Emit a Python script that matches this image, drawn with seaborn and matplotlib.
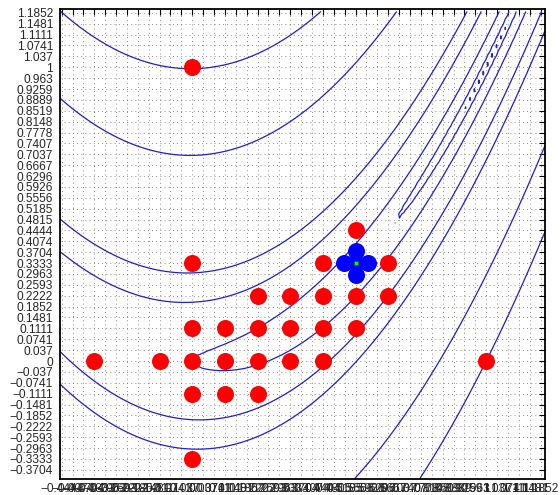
import numpy as np
import pandas as pd
import matplotlib
matplotlib.use("Agg")
import matplotlib.pyplot as plt
import seaborn as sns

# ---- data -------------------------------------------------------------
x_tick_labels = ["-0.4444", "-0.4074", "-0.3704", "-0.3333", "-0.2963", "-0.2593",
                 "-0.2222", "-0.1852", "-0.1481", "-0.1111", "-0.0741", "-0.037",
                 "0", "0.037", "0.0741", "0.1111", "0.1481", "0.1852", "0.2222",
                 "0.2593", "0.2963", "0.3333", "0.3704", "0.4074", "0.4444", "0.4815",
                 "0.5185", "0.5556", "0.5926", "0.6296", "0.6667", "0.7037", "0.7407",
                 "0.7778", "0.8148", "0.8519", "0.8889", "0.9259", "0.963", "1",
                 "1.037", "1.0741", "1.1111", "1.1481", "1.1852"]
y_tick_labels = ["-0.3704", "-0.3333", "-0.2963", "-0.2593", "-0.2222", "-0.1852",
                 "-0.1481", "-0.1111", "-0.0741", "-0.037", "0", "0.037", "0.0741",
                 "0.1111", "0.1481", "0.1852", "0.2222", "0.2593", "0.2963", "0.3333",
                 "0.3704", "0.4074", "0.4444", "0.4815", "0.5185", "0.5556", "0.5926",
                 "0.6296", "0.6667", "0.7037", "0.7407", "0.7778", "0.8148", "0.8519",
                 "0.8889", "0.9259", "0.963", "1", "1.037", "1.0741", "1.1111",
                 "1.1481", "1.1852"]

contour_levels = [0.01, 0.1, 1, 5, 10, 50, 100]

red_x = [0.5556,
         0.0, 0.4444, 0.6667,
         0.2222, 0.3333, 0.4444, 0.5556, 0.6667,
         0.0, 0.1111, 0.2222, 0.3333, 0.4444, 0.5556,
         -0.3333, -0.1111, 0.0, 0.1111, 0.2222, 0.3333, 0.4444, 1.0,
         0.0, 0.1111, 0.2222,
         0.0,
         0.0]
red_y = [0.4444,
         0.3333, 0.3333, 0.3333,
         0.2222, 0.2222, 0.2222, 0.2222, 0.2222,
         0.1111, 0.1111, 0.1111, 0.1111, 0.1111, 0.1111,
         0.0, 0.0, 0.0, 0.0, 0.0, 0.0, 0.0, 0.0,
         -0.1111, -0.1111, -0.1111,
         -0.3333,
         1.0]

blue_x = [0.5148, 0.5964, 0.5556, 0.5556, 0.5556]
blue_y = [0.3333, 0.3333, 0.2925, 0.3741, 0.3333]

green_x = [0.5556]
green_y = [0.3333]

# ---- figure -----------------------------------------------------------
sns.set_style("white")
plt.rcParams["font.family"] = ["Liberation Sans", "DejaVu Sans"]
plt.rcParams["axes.unicode_minus"] = True

fig = plt.figure(figsize=(5.6, 4.95), dpi=100)
ax = fig.add_axes([60 / 560, 16.5 / 495, 485 / 560, 470 / 495])

xt = [float(s) for s in x_tick_labels]
yt = [float(s) for s in y_tick_labels]

# dotted grid
for v in xt:
    ax.axvline(v, color="#666666", lw=0.6, ls=(0, (1, 4)), zorder=0)
for v in yt:
    ax.axhline(v, color="#666666", lw=0.6, ls=(0, (1, 4)), zorder=0)

# Rosenbrock surface contours
gx = np.arange(-0.45, 1.2001, 0.015)
gy = np.arange(-0.4, 1.2001, 0.015)
X, Y = np.meshgrid(gx, gy)
Z = 100 * (Y - X ** 2) ** 2 + (1 - X) ** 2
ax.contour(X, Y, Z, levels=contour_levels, colors=[(0.12, 0.12, 0.8)],
           linewidths=0.9, zorder=1)

red_df = pd.DataFrame({"x": red_x, "y": red_y})
blue_df = pd.DataFrame({"x": blue_x, "y": blue_y})
green_df = pd.DataFrame({"x": green_x, "y": green_y})

sns.scatterplot(data=red_df, x="x", y="y", color="#ff0000", s=150,
                linewidth=0, ax=ax, zorder=3, clip_on=False)
sns.scatterplot(data=blue_df, x="x", y="y", color="#0000ff", s=150,
                linewidth=0, ax=ax, zorder=4)
sns.scatterplot(data=green_df, x="x", y="y", color="#00ff00", marker="s", s=12,
                edgecolor="#006600", linewidth=0.5, ax=ax, zorder=5)

ax.set_xlim(-0.45, 1.2)
ax.set_ylim(-0.4, 1.2)
ax.set_xticks(xt)
ax.set_yticks(yt)
ax.set_xticklabels([s.replace("-", "\u2212") for s in x_tick_labels], fontsize=8.6)
ax.set_yticklabels([s.replace("-", "\u2212") for s in y_tick_labels], fontsize=8.6)
ax.tick_params(direction="in", length=4, width=0.8, top=True, right=True,
               color="black")
ax.tick_params(axis="y", pad=5)
ax.tick_params(axis="x", pad=3)
ax.set_xlabel("")
ax.set_ylabel("")
for sp in ax.spines.values():
    sp.set_visible(True)
    sp.set_color("black")
    sp.set_linewidth(1.3)

fig.savefig("out.png", dpi=100)
